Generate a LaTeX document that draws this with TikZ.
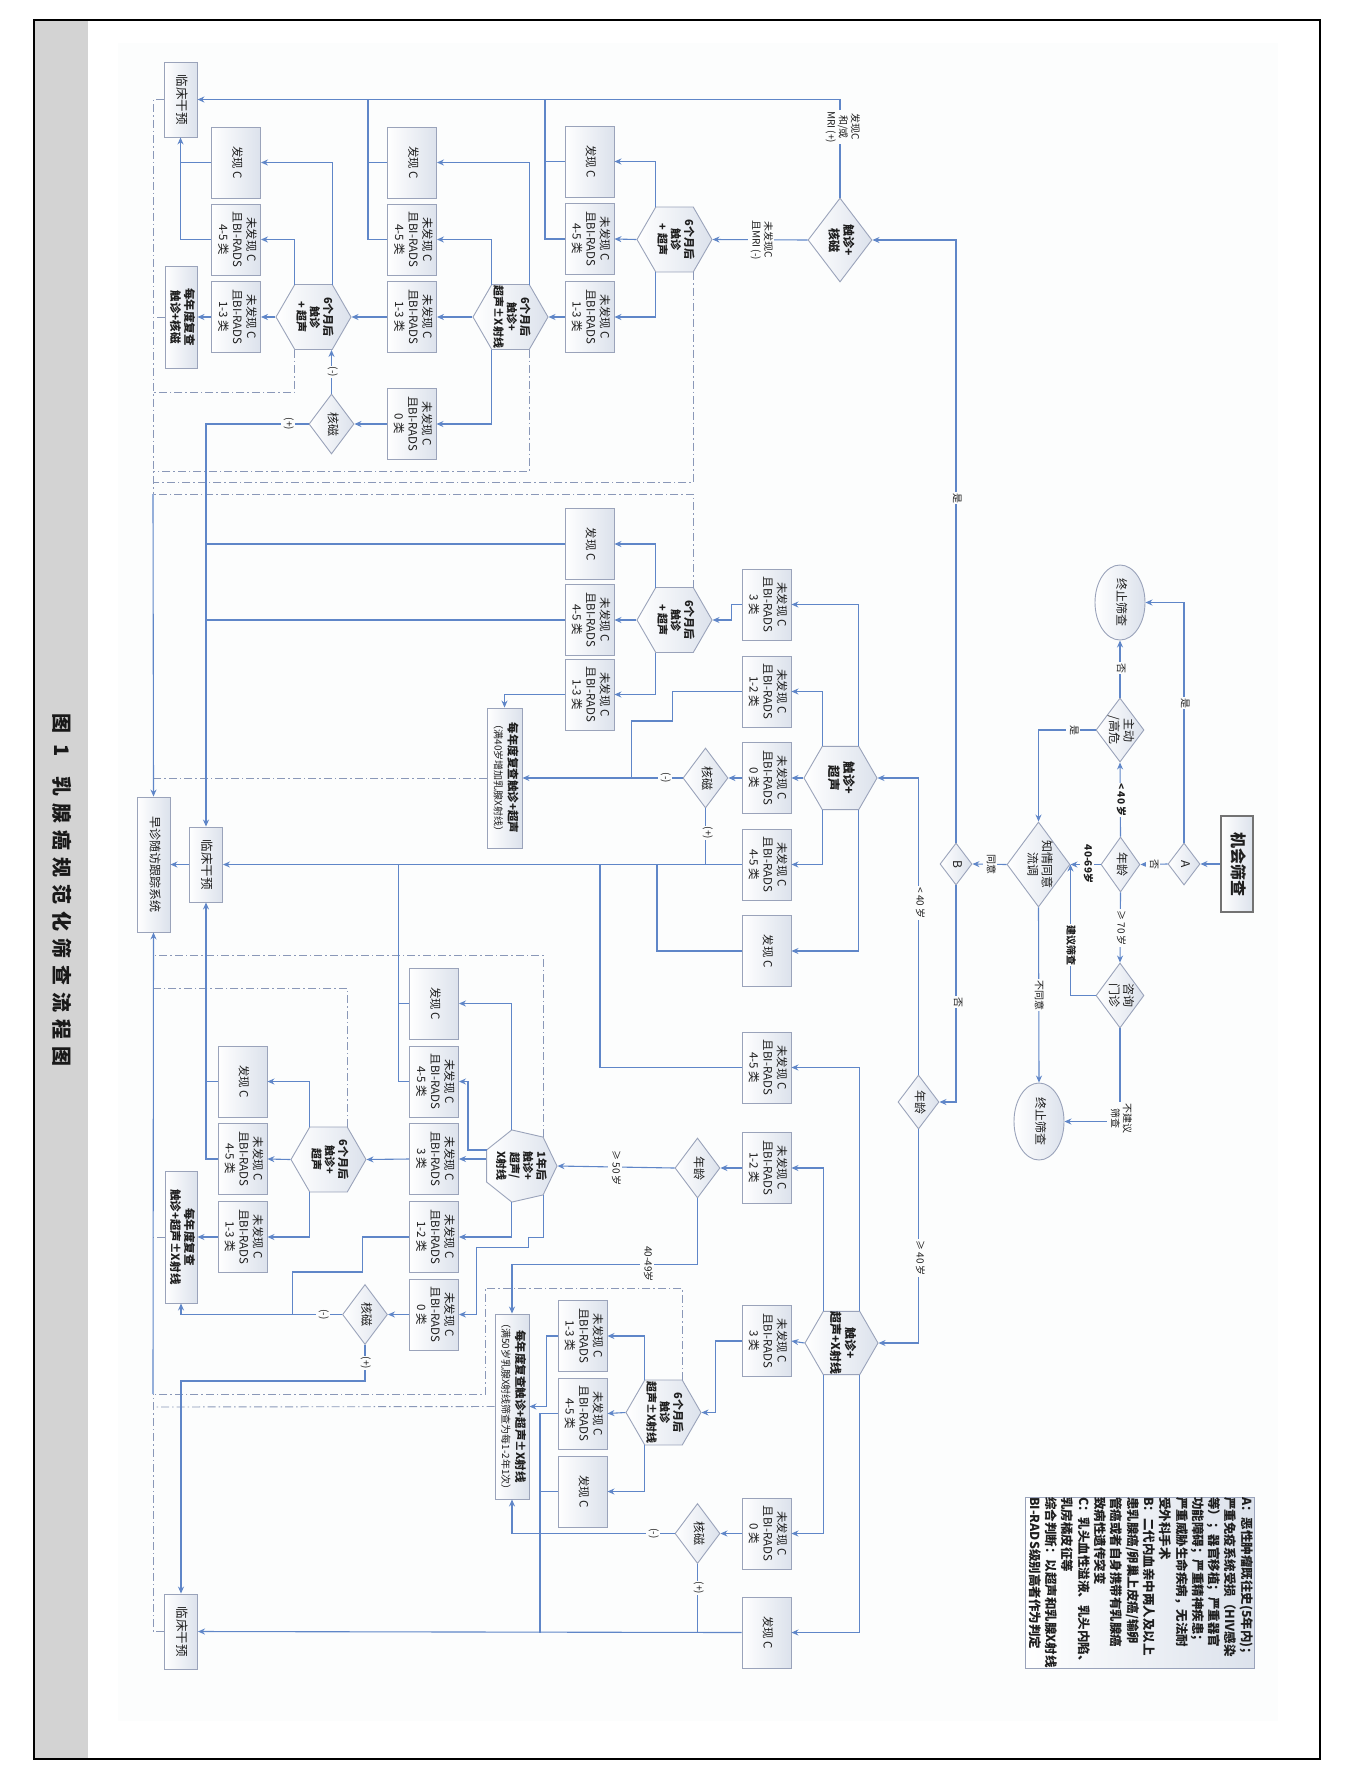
\documentclass[tikz,border=0pt]{standalone}
\usepackage{fontspec}
\setmainfont{Noto Sans CJK SC}
\newfontfamily\capfont{Noto Sans CJK SC}[LetterSpace=35]
\usepackage{graphicx}
\usepackage{tikz}
\usetikzlibrary{positioning,arrows.meta,calc,shapes.geometric}
\definecolor{cLine}{HTML}{5F86C8}
\definecolor{cBoxLine}{HTML}{9AA3BA}
\definecolor{cBoxShade}{HTML}{DCE2EC}
\definecolor{cPanel}{HTML}{FCFDFD}
\definecolor{cStrip}{HTML}{D3D3D3}
\definecolor{cDash}{HTML}{8A98B8}
\definecolor{cText}{HTML}{1E1E1E}
\newcommand{\vt}[1]{\rotatebox{-90}{\begin{tabular}{@{}c@{}}#1\end{tabular}}}
\newcommand{\vtl}[1]{\rotatebox{-90}{\begin{tabular}{@{}l@{}}#1\end{tabular}}}
\newcommand{\nfc}[1]{\vt{未发现 C\\且BI-RADS\\#1 类}}
\tikzset{
  box/.style={draw=cBoxLine, line width=0.9pt, left color=white, right color=cBoxShade,
              minimum width=49, minimum height=71, inner sep=0pt, text=cText,
              font=\fontsize{11.5}{14}\selectfont},
  cbox/.style={box, minimum width=33, minimum height=75, font=\fontsize{12.5}{15}\selectfont},
  revbox/.style={box, font=\bfseries\fontsize{11.5}{14}\selectfont},
  startbox/.style={box, draw=black!55, line width=1.6pt, minimum width=32, minimum height=96,
              font=\bfseries\fontsize{16}{18}\selectfont},
  legbox/.style={box, minimum width=229, minimum height=171,
              font=\bfseries\fontsize{12.5}{16.3}\selectfont},
  hexa/.style={regular polygon, regular polygon sides=6, minimum size=75, inner sep=0pt,
              draw=cBoxLine, line width=0.9pt, left color=white, right color=cBoxShade},
  hept/.style={hexa, regular polygon sides=7, shape border rotate=-90, minimum size=74},
  dia/.style={diamond, inner sep=0pt, draw=cBoxLine, line width=0.9pt,
              left color=white, right color=cBoxShade},
  oval/.style={ellipse, inner sep=0pt, draw=cBoxLine, line width=0.9pt,
              left color=white, right color=cBoxShade, minimum width=50, minimum height=75},
  hexlab/.style={inner sep=0pt, text=cText, font=\bfseries\fontsize{11}{13}\selectfont},
  dialab/.style={inner sep=0pt, text=cText, font=\fontsize{12}{14}\selectfont},
  lbl/.style={fill=cPanel, inner sep=1pt, text=cText, font=\fontsize{10}{12}\selectfont},
  flow/.style={draw=cLine, line width=1.1pt, -{Stealth[length=7pt,width=6pt]}},
  link/.style={draw=cLine, line width=1.1pt},
  dd/.style={draw=cDash, line width=0.9pt, dash pattern=on 8pt off 3pt on 1.5pt off 3pt},
}
\begin{document}
\begin{tikzpicture}[x=1pt,y=-1pt]
\useasboundingbox (0,0) rectangle (1345,1786);

% ========== FRAME ==========
\fill[cStrip] (34,20) rectangle (88,1759);
\fill[cPanel] (118,43) rectangle (1278,1721);
\draw[black, line width=1.2pt] (34,20) rectangle (1320,1759);
\node[text=black!90, font=\bfseries\fontsize{20}{22}\selectfont] (cap) at (62,890)
  {\rotatebox{-90}{\capfont\bfseries 图 1\quad 乳腺癌规范化筛查流程图}};

% ========== ENTRY ==========
\node[startbox] (start) at (1237,864) {\vt{机会筛查}};
\node[dia, minimum width=32, minimum height=42, label={[dialab]center:\vt{A}}] (dA) at (1184,864) {};
\node[dia, minimum width=39, minimum height=55, label={[dialab]center:\vt{年龄}}] (ag1) at (1120.5,864.5) {};
\node[dia, minimum width=48, minimum height=64, label={[dialab]center:\vt{主动\\/高危}}] (act) at (1120,730) {};
\node[oval, label={[dialab]center:\vt{终止筛查}}] (stop1) at (1120,602.5) {};
\node[dia, minimum width=63, minimum height=85, label={[dialab]center:\vt{知情同意\\流调}}] (cons) at (1038.5,864.5) {};
\node[dia, minimum width=48, minimum height=65, label={[dialab]center:\vt{咨询\\门诊}}] (clin) at (1120,995.5) {};
\node[oval, minimum height=77, label={[dialab]center:\vt{终止筛查}}] (stop2) at (1039,1121.5) {};
\node[dia, minimum width=32, minimum height=42, label={[dialab]center:\vt{B}}] (dB) at (956,864) {};
\node[dia, minimum width=41, minimum height=54, label={[dialab]center:\vt{年龄}}] (ag3) at (918.5,1102) {};

% ========== TOP BAND: MRI ==========
\node[cbox] (cl1) at (180.5,99.5) {\vt{临床干预}};
\node[box] (f1) at (236,162.5) {\vt{发现 C}};
\node[box] (n45a) at (236,239.5) {\nfc{4-5}};
\node[box] (n13a) at (236,317) {\nfc{1-3}};
\node[revbox, minimum width=32, minimum height=102] (ya) at (181,317) {\vt{每年度复查\\触诊+核磁}};
\node[hexa, label={[hexlab]center:\vt{6个月后\\触诊\\+ 超声}}] (h1) at (313.5,317) {};
\node[dia, minimum width=45, minimum height=60, label={[dialab]center:\vt{核磁}}] (mr1) at (331.5,424) {};
\node[box] (f2) at (412,162.5) {\vt{发现 C}};
\node[box] (n45b) at (412,239.5) {\nfc{4-5}};
\node[box] (n13b) at (412,317) {\nfc{1-3}};
\node[box] (n0b) at (411.5,424) {\nfc{0}};
\node[hexa, label={[hexlab]center:\vt{6个月后\\触诊+\\超声±X射线}}] (h2) at (510.5,317) {};
\node[box] (f3) at (589.5,161.5) {\vt{发现 C}};
\node[box] (n45c) at (589.5,239) {\nfc{4-5}};
\node[box] (n13c) at (589.5,317) {\nfc{1-3}};
\node[hexa, label={[hexlab]center:\vt{6个月后\\触诊\\+ 超声}}] (h3) at (674.5,239.5) {};
\node[dia, minimum width=64, minimum height=84,
      label={[dialab, font=\bfseries\fontsize{12}{14}\selectfont]center:\vt{触诊+\\核磁}}] (dmr) at (840,240) {};

% ========== MIDDLE BAND: <40 ==========
\node[box] (f4) at (589.5,544) {\vt{发现 C}};
\node[box] (n45d) at (589.5,620) {\nfc{4-5}};
\node[box] (n13d) at (589.5,694.5) {\nfc{1-3}};
\node[hexa, label={[hexlab]center:\vt{6个月后\\触诊\\+ 超声}}] (h4) at (674.5,620) {};
\node[box] (n3e) at (766.5,604.5) {\nfc{3}};
\node[box] (n12e) at (766.5,691.5) {\nfc{1-2}};
\node[box] (n0e) at (766.5,778) {\nfc{0}};
\node[box] (n45e) at (766.5,864.5) {\nfc{4-5}};
\node[box] (f5) at (766.5,951) {\vt{发现 C}};
\node[hexa, minimum size=73,
      label={[hexlab, font=\bfseries\fontsize{12.5}{15}\selectfont]center:\vt{触诊+\\超声}}] (hm) at (840.5,778) {};
\node[dia, minimum width=45, minimum height=60, label={[dialab]center:\vt{核磁}}] (mr2) at (705.5,778) {};
\node[box, minimum width=35, minimum height=140] (yb) at (504.5,778)
  {\vt{\textbf{每年度复查触诊+超声}\\{\fontsize{10}{12}\selectfont（满40岁增加乳腺X射线）}}};
\node[cbox] (cl2) at (206,864.5) {\vt{临床干预}};
\node[box, minimum width=33, minimum height=135, font=\fontsize{12}{14}\selectfont] (zz) at (153.5,864.5) {\vt{早诊随访跟踪系统}};

% ========== LOWER BAND: >=40 ==========
\node[box] (f6) at (434,1003.5) {\vt{发现 C}};
\node[box] (n45f) at (434,1081.5) {\nfc{4-5}};
\node[box] (n3f) at (434,1159) {\nfc{3}};
\node[box] (n12f) at (434,1237) {\nfc{1-2}};
\node[box] (n0f) at (434,1314.5) {\nfc{0}};
\node[hexa, label={[hexlab]center:\vt{6个月后\\触诊+\\超声}}] (h5) at (328.5,1159.5) {};
\node[box] (f7) at (242.5,1081.5) {\vt{发现 C}};
\node[box] (n45g) at (242.5,1159) {\nfc{4-5}};
\node[box] (n13g) at (242.5,1237) {\nfc{1-3}};
\node[revbox, minimum width=32, minimum height=132] (yc) at (181,1237) {\vt{每年度复查\\触诊+超声±X射线}};
\node[dia, minimum width=45, minimum height=60, label={[dialab]center:\vt{核磁}}] (mr3) at (365,1314.5) {};
\node[cbox] (cl3) at (181,1631.5) {\vt{临床干预}};
\node[hept, label={[hexlab]center:\vt{1年后\\触诊+\\超声/\\X射线}}] (hp) at (520,1166) {};
\node[box] (n45h) at (766.5,1067.5) {\nfc{4-5}};
\node[box] (n12h) at (766.5,1168) {\nfc{1-2}};
\node[dia, minimum width=45, minimum height=60, label={[dialab]center:\vt{年龄}}] (ag2) at (697.5,1168) {};
\node[box] (n3h) at (766.5,1341) {\nfc{3}};
\node[hexa, minimum size=73,
      label={[hexlab, font=\bfseries\fontsize{12}{14.5}\selectfont]center:\vt{触诊+\\超声+X射线}}] (hl) at (841.5,1343) {};
\node[box] (n0h) at (766.5,1533.5) {\nfc{0}};
\node[box] (f8) at (766.5,1632.5) {\vt{发现 C}};
\node[dia, minimum width=45, minimum height=60, label={[dialab]center:\vt{核磁}}] (mr4) at (697.5,1533.5) {};
\node[box, minimum width=34, minimum height=185] (yd) at (512,1406.5)
  {\vt{\textbf{每年度复查触诊+超声±X射线}\\{\fontsize{10}{12}\selectfont（满50岁乳腺X射线筛查为每1-2年1次）}}};
\node[box] (n13i) at (582.5,1336) {\nfc{1-3}};
\node[box] (n45i) at (582.5,1413.5) {\nfc{4-5}};
\node[box] (f9) at (582.5,1491.5) {\vt{发现 C}};
\node[hexa, label={[hexlab]center:\vt{6个月后\\触诊\\超声±X射线}}] (h6) at (663.5,1412.5) {};

% ========== LEGEND ==========
\node[legbox] (leg) at (1139.5,1582.5) {\vtl{A：恶性肿瘤既往史(5年内)；\\严重免疫系统受损（HIV感染\\等）；器官移植；严重器官\\功能障碍；严重精神疾患；\\严重威胁生命疾病，无法耐\\受外科手术\\B：二代内血亲中两人及以上\\患乳腺癌/卵巢上皮癌/输卵\\管癌或者自身携带有乳腺癌\\致病性遗传突变\\C：乳头血性溢液、乳头内陷、\\乳房橘皮征等\\综合判断：以超声和乳腺X射线\\BI-RADS级别高者作为判定}};

% ========== TRACKING (dash-dot) ==========
\coordinate (t1) at (153,317);
\coordinate (t2) at (153,392);
\coordinate (t3) at (153,471);
\coordinate (t4) at (153,482);
\coordinate (t5) at (153,494);
\coordinate (t6) at (153,778);
\coordinate (t7) at (153,955);
\coordinate (t8) at (153,988);
\coordinate (t9) at (153,1237);
\coordinate (t10) at (153,1394);
\coordinate (t11) at (153,1407);
\draw[dd] (cl1.west) -| (t5);
\draw[dd] (cl3.west) -| (t10);
\draw[dd] (ya.west) -- (t1);
\draw[dd] ($(h1)+(-18.75,32.5)$) |- (t2);
\draw[dd] ($(h2)+(18.75,32.5)$) |- (t3);
\draw[dd] ($(h3)+(18.75,32.5)$) |- (t4);
\draw[dd] ($(h4)+(18.75,-32.5)$) |- (t5);
\draw[dd] (yb.west) -- (t6);
\draw[dd] ($(hp)+(23.07,-28.85)$) |- (t7);
\draw[dd] ($(h5)+(18.75,-32.5)$) |- (t8);
\draw[dd] (yc.west) -- (t9);
\draw[dd] ($(h6)+(18.75,-32.5)$) -- ++(0,-92) -- ++(-197,0) |- (t10);
\draw[dd] (yd.west) -- (t11);
\draw[flow] (t5) -- (zz.north);
\draw[flow] (t10) -- (zz.south);

% ========== ENTRY FLOW ==========
\draw[flow] (start.west) -- (dA.east);
\draw[flow] (dA.north) |- (stop1.east);
\draw[flow] (dA.west) -- (ag1.east);
\draw[flow] (ag1.north) -- (act.south);
\draw[flow] (act.north) -- (stop1.south);
\draw[flow] (act.west) -| (cons.north);
\draw[flow] (ag1.west) -- (cons.east);
\draw[flow] (ag1.south) -- (clin.north);
\draw[flow] (clin.west) -| (cons.east);
\draw[flow] (clin.south) |- (stop2.east);
\draw[flow] (cons.south) -- (stop2.north);
\draw[flow] (cons.west) -- (dB.east);
\draw[flow] (dB.north) |- (dmr.east);
\draw[flow] (dB.south) |- (ag3.east);
\draw[flow] (ag3.north) |- (hm.east);
\draw[flow] (ag3.south) |- (hl.east);

% ========== TOP BAND FLOW ==========
\coordinate (j2) at (368,99.5);
\coordinate (j3) at (545,99.5);
\draw[flow] (dmr.north) |- (cl1.east);
\draw[link] (f3.west) -- (f3.west -| j3);
\draw[link] (n45c.west) -| (j3);
\draw[link] (f2.west) -- (f2.west -| j2);
\draw[link] (n45b.west) -| (j2);
\draw[link] (f1.west) -- (f1.west -| cl1.south);
\draw[flow] (n45a.west) -| (cl1.south);
\draw[flow] (dmr.west) -- (h3.east);
\draw[flow] (h3.west) -- (n45c.east);
\draw[flow] ($(h3)+(-18.75,-32.5)$) |- (f3.east);
\draw[flow] ($(h3)+(-18.75,32.5)$) |- (n13c.east);
\draw[flow] (n13c.west) -- (h2.east);
\draw[flow] (h2.west) -- (n13b.east);
\draw[flow] ($(h2)+(-18.75,-32.5)$) |- (n45b.east);
\draw[flow] ($(h2)+(18.75,-32.5)$) |- (f2.east);
\draw[flow] ($(h2)+(-18.75,32.5)$) |- (n0b.east);
\draw[flow] (n13b.west) -- (h1.east);
\draw[flow] (n0b.west) -- (mr1.east);
\draw[flow] (h1.west) -- (n13a.east);
\draw[flow] ($(h1)+(-18.75,-32.5)$) |- (n45a.east);
\draw[flow] ($(h1)+(18.75,-32.5)$) |- (f1.east);
\draw[flow] (n13a.west) -- (ya.east);
\draw[flow] (mr1.north) -- (mr1.north |- h1.south);
\draw[flow] (mr1.west) -| (cl2.north);

% ========== MIDDLE BAND FLOW ==========
\coordinate (jf) at (398.5,864.5);
\coordinate (jg) at (657,864.5);
\coordinate (jh) at (600,864.5);
\draw[flow] ($(hm)+(18.25,-31.6)$) |- (n3e.east);
\draw[flow] ($(hm)+(-18.25,-31.6)$) |- (n12e.east);
\draw[flow] (hm.west) -- (n0e.east);
\draw[flow] ($(hm)+(-18.25,31.6)$) |- (n45e.east);
\draw[flow] ($(hm)+(18.25,31.6)$) |- (f5.east);
\draw[flow] (n3e.west) -- ++(-10,0) |- (h4.east);
\draw[flow] (h4.west) -- (n45d.east);
\draw[flow] ($(h4)+(-18.75,-32.5)$) |- (f4.east);
\draw[flow] ($(h4)+(-18.75,32.5)$) |- (n13d.east);
\draw[link] (f4.west) -- (f4.west -| cl2.north);
\draw[link] (n45d.west) -- (n45d.west -| cl2.north);
\draw[flow] (n13d.west) -| (yb.north);
\draw[flow] (n0e.west) -- (mr2.east);
\draw[flow] (mr2.west) -- (yb.east);
\draw[link] (n12e.west) -- ++(-69,0) -- ++(0,29.5) -- ++(-41,0) -- ++(0,57);
\draw[link] (mr2.south) -- (mr2.south |- n45e.west);
\draw[flow] (n45e.west) -- (cl2.east);
\draw[link] (f5.west) -| (jg);
\draw[link] (n45h.west) -| (jh);
\draw[link] (n45f.west) -| (jf);
\draw[link] (f6.west) -- (f6.west -| jf);
\draw[flow] (cl2.west) -- (zz.east);

% ========== LOWER BAND FLOW ==========
\draw[flow] (n12h.west) -- (ag2.east);
\draw[flow] (ag2.west) -- (hp.east);
\draw[flow] (ag2.south) -- ++(0,66) -| (yd.north);
\draw[flow] ($(hp)+(-8.23,-36.07)$) |- (f6.east);
\draw[flow] ($(hp)+(-33.3,-16.05)$) -- ++(-18.7,0) |- (n45f.east);
\draw[flow] (n3f.east -| hp.west) -- (n3f.east);
\draw[flow] ($(hp)+(-8.23,36.07)$) |- (n12f.east);
\draw[flow] ($(hp)+(23.07,28.85)$) -- ++(0,43) -- ++(-15,0) -- ++(0,10) -- ++(-52,0) |- (n0f.east);
\draw[flow] (n3f.west) -- (h5.east);
\draw[flow] (h5.west) -- (n45g.east);
\draw[flow] ($(h5)+(-18.75,-32.5)$) |- (f7.east);
\draw[flow] ($(h5)+(-18.75,32.5)$) |- (n13g.east);
\draw[link] (f7.west) -- (f7.west -| cl2.south);
\draw[flow] (n45g.west) -| (cl2.south);
\draw[flow] (n13g.west) -- (yc.east);
\draw[link] (n12f.west) -- ++(-47,0) -- ++(0,35) -- ++(-70,0) -- ++(0,42.5);
\draw[flow] (n0f.west) -- (mr3.east);
\draw[flow] (mr3.west) -| (yc.south);
\draw[flow] (mr3.south) -- ++(0,36) -| (cl3.north);

\coordinate (jk) at (540,1632.5);
\draw[flow] ($(hl)+(18.25,-31.6)$) |- (n45h.east);
\draw[flow] ($(hl)+(-18.25,-31.6)$) |- (n12h.east);
\draw[flow] (hl.west) -- (n3h.east);
\draw[flow] ($(hl)+(-18.25,31.6)$) |- (n0h.east);
\draw[flow] ($(hl)+(18.25,31.6)$) |- (f8.east);
\draw[flow] (n3h.west) -- ++(-26,0) |- (h6.east);
\draw[flow] (h6.west) -- (n45i.east);
\draw[flow] ($(h6)+(-18.75,-32.5)$) |- (n13i.east);
\draw[flow] ($(h6)+(-18.75,32.5)$) |- (f9.east);
\draw[flow] (n13i.west) -- ++(-11,0) |- (yd.east);
\draw[link] (n45i.west) -| (jk);
\draw[link] (f9.west) -- (f9.west -| jk);
\draw[flow] (n0h.west) -- (mr4.east);
\draw[flow] (mr4.west) -| (yd.south);
\draw[link] (mr4.south) -- (mr4.south |- f8.west);
\draw[flow] (f8.west) -- (cl3.east);

% ========== EDGE LABELS ==========
\node[lbl] (l1) at (842,127) {\vt{发现C\\和/或\\MRI (+)}};
\node[lbl] (l2) at (761,240) {\vt{未发现C\\且MRI (-)}};
\node[lbl] (l3) at (956,498) {\vt{是}};
\node[lbl] (l4) at (332,372) {\vt{(-)}};
\node[lbl] (l5) at (288,424) {\vt{(+)}};
\node[lbl] (l6) at (919,903) {\vt{< 40 岁}};
\node[lbl] (l7) at (665,778) {\vt{(-)}};
\node[lbl] (l8) at (707,833) {\vt{(+)}};
\node[lbl] (l9) at (615,1168) {\vt{≥ 50 岁}};
\node[lbl] (l10) at (647,1264) {\vt{40-49岁}};
\node[lbl] (l11) at (323,1314.5) {\vt{(-)}};
\node[lbl] (l12) at (365,1363) {\vt{(+)}};
\node[lbl] (l13) at (919,1258) {\vt{≥ 40 岁}};
\node[lbl] (l14) at (957,1002) {\vt{否}};
\node[lbl] (l15) at (653,1533.5) {\vt{(-)}};
\node[lbl] (l16) at (698,1588) {\vt{(+)}};
\node[lbl] (l17) at (1184,703) {\vt{是}};
\node[lbl] (l18) at (1153,864) {\vt{否}};
\node[lbl] (l19) at (1120,800) {\vt{\textbf{< 40 岁}}};
\node[lbl] (l20) at (1120,668) {\vt{否}};
\node[lbl] (l21) at (1073,730) {\vt{是}};
\node[lbl] (l22) at (1087,864) {\vt{\textbf{40-69岁}}};
\node[lbl] (l23) at (1120,928) {\vt{≥ 70 岁}};
\node[lbl] (l24) at (1070,945) {\vt{\textbf{建议筛查}}};
\node[lbl] (l25) at (1120,1118) {\vt{不建议\\筛查}};
\node[lbl] (l26) at (1038,995) {\vt{不同意}};
\node[lbl] (l27) at (990,864) {\vt{同意}};
\end{tikzpicture}
\end{document}
